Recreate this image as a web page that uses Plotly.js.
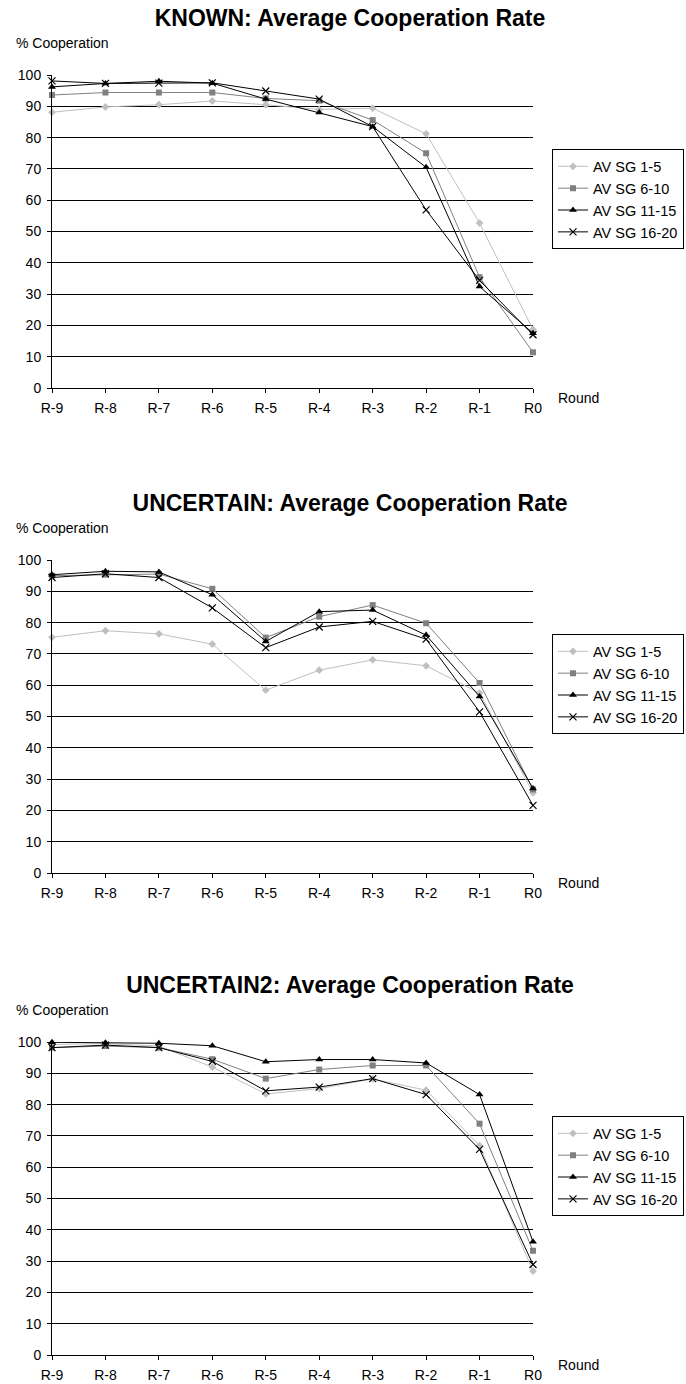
<!DOCTYPE html>
<html>
<head>
<meta charset="utf-8">
<script src="https://cdn.plot.ly/plotly-3.0.1.min.js"></script>
<style>
  html, body { margin: 0; padding: 0; background: #fff; width: 686px; height: 1384px; overflow: hidden; }
  .chart { position: absolute; left: 0; width: 686px; height: 485px; }
</style>
</head>
<body>
<div id="c1" class="chart" style="top:0px"></div>
<div id="c2" class="chart" style="top:485px"></div>
<div id="c3" class="chart" style="top:967px"></div>
<script>
// Categories (rounds)
const rounds = ["R-9", "R-8", "R-7", "R-6", "R-5", "R-4", "R-3", "R-2", "R-1", "R0"];
const seriesNames = ["AV SG 1-5", "AV SG 6-10", "AV SG 11-15", "AV SG 16-20"];
const chartTitles = [
  "KNOWN: Average Cooperation Rate",
  "UNCERTAIN: Average Cooperation Rate",
  "UNCERTAIN2: Average Cooperation Rate"
];
const yAxisLabel = "% Cooperation";
const xAxisLabel = "Round";

// KNOWN
const known_sg1_5   = [88.1, 89.8, 90.5, 91.7, 90.5, 89.0, 89.4, 81.2, 52.7, 18.7];
const known_sg6_10  = [93.6, 94.4, 94.4, 94.4, 92.5, 91.8, 85.6, 75.0, 35.4, 11.4];
const known_sg11_15 = [96.2, 97.3, 98.0, 97.4, 92.3, 88.0, 83.5, 70.5, 32.4, 17.5];
const known_sg16_20 = [98.1, 97.3, 97.4, 97.5, 94.9, 92.3, 83.5, 56.9, 34.4, 17.0];

// UNCERTAIN
const unc_sg1_5   = [75.3, 77.4, 76.4, 73.1, 58.4, 64.8, 68.1, 66.2, 57.5, 25.6];
const unc_sg6_10  = [95.0, 95.3, 95.5, 90.8, 75.2, 81.9, 85.6, 79.8, 60.7, 26.7];
const unc_sg11_15 = [95.3, 96.4, 96.2, 88.9, 74.0, 83.5, 84.0, 76.0, 56.4, 27.0];
const unc_sg16_20 = [94.4, 95.6, 94.4, 84.7, 72.0, 78.6, 80.4, 74.7, 51.5, 21.6];

// UNCERTAIN2
const unc2_sg1_5   = [99.2, 99.5, 98.7, 92.0, 83.4, 85.1, 88.2, 84.6, 66.9, 26.8];
const unc2_sg6_10  = [98.2, 98.7, 98.2, 94.5, 88.3, 91.2, 92.5, 92.5, 73.9, 33.3];
const unc2_sg11_15 = [99.9, 99.8, 99.6, 98.8, 93.7, 94.4, 94.4, 93.3, 83.2, 36.2];
const unc2_sg16_20 = [98.2, 99.0, 98.2, 93.8, 84.4, 85.6, 88.3, 83.2, 65.7, 28.9];

const FONT = "Arial, 'Liberation Sans', sans-serif";

const styles = [
  { line: { color: "#c0c0c0", width: 1 }, marker: { symbol: "diamond", size: 6, color: "#c0c0c0" } },
  { line: { color: "#808080", width: 1 }, marker: { symbol: "square", size: 6, color: "#808080" } },
  { line: { color: "#000000", width: 1 }, marker: { symbol: "triangle-up", size: 7, color: "#000000" } },
  { line: { color: "#000000", width: 1 }, marker: { symbol: "x-thin", size: 7, color: "#000000", line: { width: 1.2, color: "#000000" } } }
];

function makeChart(divId, title, seriesList) {
  const traces = seriesList.map((vals, i) => ({
    type: "scatter",
    mode: "lines+markers",
    name: seriesNames[i],
    x: rounds,
    y: vals,
    line: styles[i].line,
    marker: styles[i].marker,
    cliponaxis: false
  }));
  const H = 485, top = 75, plotH = 313;
  const layout = {
    width: 686,
    height: H,
    margin: { l: 52, r: 153, t: top, b: H - top - plotH, pad: 0, autoexpand: false },
    paper_bgcolor: "rgba(0,0,0,0)",
    plot_bgcolor: "rgba(0,0,0,0)",
    font: { family: FONT, size: 14, color: "#000" },
    showlegend: true,
    title: {
      text: "<b>" + title + "</b>",
      font: { family: FONT, size: 23, color: "#000" },
      xref: "container", x: 350 / 686, xanchor: "center",
      yref: "container", y: 1 - 17.7 / H, yanchor: "middle"
    },
    xaxis: {
      type: "category",
      categoryorder: "array",
      categoryarray: rounds,
      range: [0, 9],
      showgrid: false,
      zeroline: false,
      showline: true,
      linecolor: "#000",
      linewidth: 1,
      ticks: "outside",
      ticklen: 4,
      tickcolor: "#000",
      ticklabelstandoff: 3,
      tickfont: { family: FONT, size: 14, color: "#000" },
      fixedrange: true
    },
    yaxis: {
      range: [0, 100],
      dtick: 10,
      tick0: 0,
      showgrid: true,
      gridcolor: "#000",
      gridwidth: 1,
      zeroline: false,
      showline: true,
      linecolor: "#000",
      linewidth: 1,
      ticks: "outside",
      ticklen: 4,
      tickcolor: "#000",
      ticklabelstandoff: 3,
      tickfont: { family: FONT, size: 14, color: "#000" },
      fixedrange: true
    },
    legend: {
      x: (552 - 52) / 481, xanchor: "left",
      y: 0.6026, yanchor: "middle",
      bordercolor: "#000",
      borderwidth: 1,
      bgcolor: "#fff",
      font: { family: FONT, size: 14.5, color: "#000" },
      itemwidth: 30,
      tracegroupgap: 0
    },
    annotations: [
      {
        text: yAxisLabel, showarrow: false,
        xref: "paper", x: (14 - 52) / 481, xanchor: "left",
        yref: "paper", y: 1 + (75 - 43) / plotH, yanchor: "middle",
        font: { family: FONT, size: 14, color: "#000" }
      },
      {
        text: xAxisLabel, showarrow: false,
        xref: "paper", x: (555.7 - 52) / 481, xanchor: "left",
        yref: "paper", y: -10 / plotH, yanchor: "middle",
        font: { family: FONT, size: 14, color: "#000" }
      }
    ]
  };
  Plotly.newPlot(divId, traces, layout, { displayModeBar: false, staticPlot: true });
}

makeChart("c1", chartTitles[0], [known_sg1_5, known_sg6_10, known_sg11_15, known_sg16_20]);
makeChart("c2", chartTitles[1], [unc_sg1_5, unc_sg6_10, unc_sg11_15, unc_sg16_20]);
makeChart("c3", chartTitles[2], [unc2_sg1_5, unc2_sg6_10, unc2_sg11_15, unc2_sg16_20]);
</script>
</body>
</html>
